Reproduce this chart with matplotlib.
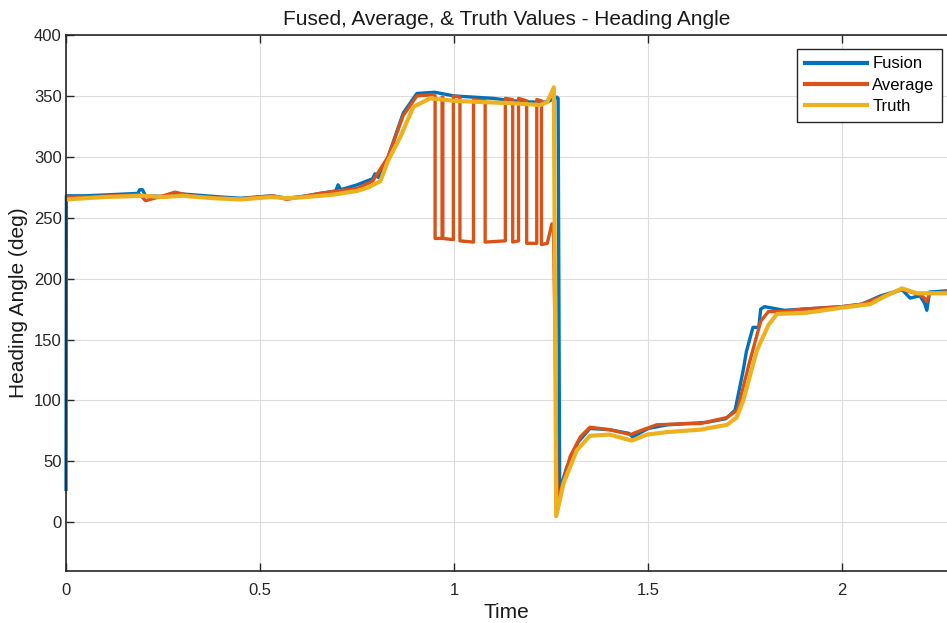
import matplotlib.pyplot as plt
import numpy as np

# --- Dados ---
t_truth = [0, 0.05, 0.10, 0.20, 0.25, 0.30, 0.38, 0.45, 0.53, 0.57, 0.62, 0.69,
           0.75, 0.78, 0.81, 0.83, 0.861, 0.895, 0.938, 1.00, 1.067, 1.15, 1.222,
           1.24, 1.257, 1.263, 1.282, 1.316, 1.35, 1.40, 1.458, 1.497, 1.548,
           1.634, 1.703, 1.728, 1.745, 1.78, 1.81, 1.832, 1.909, 1.995, 2.072,
           2.107, 2.154, 2.192, 2.22, 2.27]
v_truth = [265, 266, 267, 268, 267, 268, 266, 265, 267, 266, 267, 269,
           272, 275, 280, 297, 316, 341, 348, 346, 345, 344, 342.5,
           345, 357, 5, 32, 59, 71, 72, 67, 72, 74,
           76, 80, 86, 100, 141, 162, 171, 172, 176, 179,
           185, 192, 188, 188, 188]

t_fusion = [0, 0.001, 0.05, 0.12, 0.185, 0.19, 0.197, 0.205, 0.25, 0.28, 0.32,
            0.40, 0.45, 0.53, 0.57, 0.62, 0.655, 0.695, 0.701, 0.708, 0.75,
            0.79, 0.796, 0.805, 0.83, 0.869, 0.904, 0.95, 1.00, 1.05, 1.10,
            1.15, 1.20, 1.24, 1.265, 1.268, 1.272, 1.29, 1.32, 1.35, 1.40,
            1.45, 1.46, 1.50, 1.55, 1.60, 1.65, 1.70, 1.724, 1.745, 1.753,
            1.77, 1.785, 1.79, 1.80, 1.85, 1.90, 2.00, 2.05, 2.10, 2.154,
            2.175, 2.20, 2.212, 2.218, 2.225, 2.27]
v_fusion = [27, 268, 268, 269, 270, 273, 273, 268, 267.5, 270, 269,
            267, 266, 268, 266, 268, 270, 272, 277, 273, 277,
            282, 286, 283, 300, 336, 352, 353, 350, 349, 348,
            346, 345, 345, 349, 348, 26, 45, 66, 77, 76,
            73, 70, 77, 80, 81, 82, 85, 92, 125, 140,
            160, 160, 175, 177, 174, 175, 177, 179, 186, 191,
            184, 186, 180, 174, 189, 190]

t_avg = [0, 0.05, 0.12, 0.19, 0.205, 0.25, 0.281, 0.32, 0.40, 0.45, 0.534,
         0.569, 0.62, 0.655, 0.70, 0.75, 0.79, 0.83, 0.869, 0.904, 0.947,
         0.951, 0.951, 0.969, 0.969, 0.971, 0.971, 0.998, 0.998, 1.015, 1.015,
         1.050, 1.050, 1.080, 1.080, 1.132, 1.132, 1.151, 1.151, 1.166, 1.166,
         1.187, 1.187, 1.213, 1.213, 1.225, 1.225, 1.24, 1.252, 1.256, 1.266,
         1.273, 1.299, 1.325, 1.35, 1.40, 1.455, 1.47, 1.522, 1.60, 1.634,
         1.703, 1.73, 1.76, 1.79, 1.81, 1.85, 1.90, 2.00, 2.05, 2.10,
         2.154, 2.20, 2.212, 2.218, 2.225, 2.27]
v_avg = [267, 267, 268, 269, 264, 268, 271, 268, 266, 265.5, 268,
         265, 268, 270, 272, 274, 280, 300, 334, 350, 351,
         350, 233, 233, 349, 349, 233, 232, 350, 349, 231,
         230, 347, 346, 230, 231, 348, 347, 230, 231, 348,
         346, 229, 229, 347, 346, 228, 229, 245, 243, 20,
         24, 54, 70, 78, 76, 72, 74, 80, 81, 81,
         86, 92, 130, 165, 173, 173, 175, 177, 179, 185,
         191, 187, 184, 181, 188, 189]

x_ticks = [0, 0.5, 1, 1.5, 2]
x_tick_labels = ['0', '0.5', '1', '1.5', '2']
y_ticks = [0, 50, 100, 150, 200, 250, 300, 350, 400]

# Cores padrão do MATLAB
C_BLUE = '#0072BD'
C_ORANGE = '#D95319'
C_YELLOW = '#EDB120'
C_AXIS = '#262626'

plt.rcParams['font.family'] = ['Liberation Sans', 'DejaVu Sans']

fig = plt.figure(figsize=(9.47, 6.23), dpi=100)
ax = fig.add_axes([0.0697, 0.0835, 0.9303, 0.8603])

# clip_on=False para a linha vertical em t=0 aparecer inteira sobre o eixo
ax.plot(t_fusion, v_fusion, color=C_BLUE, lw=2.4, label='Fusion', clip_on=False)
ax.plot(t_avg, v_avg, color=C_ORANGE, lw=2.4, label='Average')
ax.plot(t_truth, v_truth, color=C_YELLOW, lw=3.0, label='Truth')

ax.set_xlim(0, 2.27)
ax.set_ylim(-40, 400)
ax.set_xticks(x_ticks)
ax.set_xticklabels(x_tick_labels)
ax.set_yticks(y_ticks)

# --- Estilo MATLAB ---
ax.grid(True, color='#dcdcdc', lw=0.8)
ax.set_axisbelow(True)
ax.spines['right'].set_visible(False)
for s in ['left', 'top', 'bottom']:
    ax.spines[s].set_color(C_AXIS)
    ax.spines[s].set_linewidth(1.2)
ax.tick_params(direction='in', length=6, width=1, colors=C_AXIS,
               labelsize=12, top=True, right=False)
ax.tick_params(axis='x', pad=9)
ax.tick_params(axis='y', pad=3)

ax.set_title('Fused, Average, & Truth Values - Heading Angle',
             fontsize=15, color='#1a1a1a', pad=7)
ax.set_xlabel('Time', fontsize=15, color='#1a1a1a', labelpad=3)
ax.set_ylabel('Heading Angle (deg)', fontsize=15, color='#1a1a1a', labelpad=4)

leg = ax.legend(loc='upper right', bbox_to_anchor=(942 / 947, 1 - 49 / 623),
                bbox_transform=fig.transFigure, borderaxespad=0,
                fontsize=12, frameon=True, fancybox=False, edgecolor=C_AXIS,
                framealpha=1, handlelength=3.7, handletextpad=0.35,
                labelspacing=0.38, borderpad=0.45)
leg.get_frame().set_linewidth(1.0)
for line in leg.get_lines():
    line.set_linewidth(3)

fig.savefig('out.png', dpi=100)
